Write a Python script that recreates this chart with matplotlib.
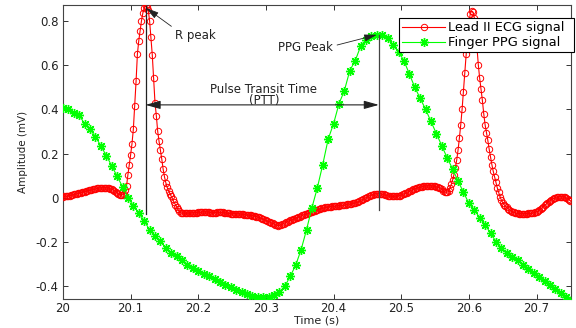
import numpy as np
import matplotlib
matplotlib.use("Agg")
import matplotlib.pyplot as plt
from matplotlib.lines import Line2D

# ---------------- data ----------------
t_start = 20.0
fs_ecg = 500.0   # Hz
fs_ppg = 125.0   # Hz

ecg_mv = [
    0.005, 0.006, 0.007, 0.008, 0.009, 0.010, 0.012, 0.013, 0.015, 0.016,
    0.018, 0.020, 0.022, 0.023, 0.025, 0.027, 0.028, 0.030, 0.032, 0.033,
    0.035, 0.036, 0.038, 0.039, 0.040, 0.042, 0.043, 0.044, 0.044, 0.045,
    0.045, 0.045, 0.045, 0.044, 0.043, 0.041, 0.039, 0.036, 0.032, 0.027,
    0.021, 0.017, 0.014, 0.013, 0.013, 0.018, 0.035, 0.055, 0.105, 0.150,
    0.195, 0.245, 0.310, 0.415, 0.526, 0.650, 0.710, 0.755, 0.800, 0.835,
    0.858, 0.866, 0.862, 0.850, 0.800, 0.725, 0.645, 0.540, 0.430, 0.370,
    0.300, 0.255, 0.215, 0.175, 0.130, 0.095, 0.068, 0.047, 0.032, 0.019,
    0.006, -0.007, -0.019, -0.031, -0.042, -0.053, -0.062, -0.067, -0.069, -0.070,
    -0.070, -0.070, -0.070, -0.070, -0.069, -0.069, -0.068, -0.068, -0.067, -0.067,
    -0.066, -0.065, -0.065, -0.064, -0.064, -0.064, -0.064, -0.065, -0.066, -0.067,
    -0.068, -0.068, -0.067, -0.067, -0.066, -0.065, -0.065, -0.065, -0.066, -0.067,
    -0.069, -0.070, -0.071, -0.071, -0.072, -0.072, -0.072, -0.072, -0.073, -0.073,
    -0.073, -0.074, -0.075, -0.075, -0.076, -0.077, -0.078, -0.079, -0.080, -0.080,
    -0.081, -0.082, -0.083, -0.085, -0.087, -0.089, -0.092, -0.094, -0.097, -0.100,
    -0.102, -0.105, -0.108, -0.111, -0.113, -0.116, -0.119, -0.122, -0.124, -0.126,
    -0.125, -0.123, -0.120, -0.117, -0.114, -0.111, -0.108, -0.105, -0.102, -0.100,
    -0.097, -0.095, -0.092, -0.090, -0.087, -0.085, -0.082, -0.080, -0.077, -0.075,
    -0.073, -0.070, -0.068, -0.065, -0.063, -0.061, -0.058, -0.056, -0.054, -0.052,
    -0.050, -0.048, -0.046, -0.045, -0.044, -0.042, -0.041, -0.040, -0.040, -0.039,
    -0.038, -0.038, -0.037, -0.037, -0.036, -0.035, -0.035, -0.034, -0.033, -0.032,
    -0.030, -0.029, -0.028, -0.027, -0.026, -0.024, -0.023, -0.021, -0.019, -0.016,
    -0.012, -0.009, -0.006, -0.003, 0.000, 0.004, 0.007, 0.010, 0.012, 0.014,
    0.017, 0.018, 0.019, 0.019, 0.019, 0.018, 0.017, 0.015, 0.013, 0.011,
    0.009, 0.008, 0.007, 0.006, 0.006, 0.006, 0.007, 0.008, 0.009, 0.010,
    0.012, 0.015, 0.017, 0.020, 0.023, 0.026, 0.029, 0.032, 0.035, 0.038,
    0.041, 0.043, 0.045, 0.047, 0.048, 0.050, 0.051, 0.052, 0.053, 0.053,
    0.054, 0.054, 0.054, 0.053, 0.052, 0.051, 0.050, 0.048, 0.046, 0.043,
    0.038, 0.032, 0.027, 0.024, 0.025, 0.030, 0.042, 0.060, 0.080, 0.105,
    0.135, 0.170, 0.215, 0.270, 0.330, 0.400, 0.480, 0.565, 0.650, 0.730,
    0.790, 0.830, 0.845, 0.840, 0.815, 0.760, 0.680, 0.600, 0.540, 0.490,
    0.440, 0.380, 0.330, 0.295, 0.260, 0.220, 0.185, 0.150, 0.120, 0.095,
    0.070, 0.045, 0.025, 0.005, -0.010, -0.022, -0.031, -0.038, -0.044, -0.049,
    -0.054, -0.059, -0.063, -0.066, -0.068, -0.070, -0.071, -0.072, -0.072, -0.072,
    -0.072, -0.072, -0.072, -0.072, -0.071, -0.071, -0.070, -0.069, -0.068, -0.066,
    -0.064, -0.061, -0.057, -0.052, -0.047, -0.041, -0.035, -0.029, -0.023, -0.018,
    -0.013, -0.009, -0.005, -0.002, 0.001, 0.003, 0.004, 0.005, 0.005, 0.005,
    0.004, 0.002, -0.001, -0.005, -0.009, -0.013,
]

ppg_mv = [
    0.405, 0.400, 0.385, 0.372, 0.335, 0.310, 0.275, 0.235, 0.190, 0.145,
    0.097, 0.050, 0.000, -0.036, -0.068, -0.105, -0.145, -0.172, -0.197, -0.228,
    -0.250, -0.265, -0.280, -0.302, -0.316, -0.330, -0.343, -0.355, -0.367, -0.380,
    -0.393, -0.405, -0.416, -0.427, -0.436, -0.443, -0.448, -0.450, -0.450, -0.440,
    -0.425, -0.400, -0.355, -0.305, -0.235, -0.145, -0.045, 0.045, 0.150, 0.265,
    0.335, 0.425, 0.485, 0.575, 0.620, 0.685, 0.715, 0.730, 0.738, 0.737,
    0.722, 0.690, 0.660, 0.620, 0.560, 0.500, 0.450, 0.400, 0.345, 0.290,
    0.235, 0.180, 0.130, 0.076, 0.025, -0.025, -0.055, -0.090, -0.122, -0.160,
    -0.198, -0.228, -0.252, -0.268, -0.283, -0.302, -0.321, -0.340, -0.359, -0.378,
    -0.395, -0.413, -0.431, -0.448, -0.465,
]

r_peak_t = 20.122
r_peak_v = 0.866
ppg_peak_t = 20.467
ppg_peak_v = 0.738
ptt_level = 0.42

x_ticks = [20.0, 20.1, 20.2, 20.3, 20.4, 20.5, 20.6, 20.7]
x_tick_labels = ["20", "20.1", "20.2", "20.3", "20.4", "20.5", "20.6", "20.7"]
y_ticks = [-0.4, -0.2, 0.0, 0.2, 0.4, 0.6, 0.8]
y_tick_labels = ["-0.4", "-0.2", "0", "0.2", "0.4", "0.6", "0.8"]

# ---------------- figure ----------------
plt.rcParams['font.family'] = ['DejaVu Sans']
W, H = 576, 328
fig = plt.figure(figsize=(W / 100, H / 100), dpi=100)
ax = fig.add_axes([63 / W, 1 - 299 / H, (571 - 63) / W, (299 - 4.5) / H])

t_ecg = t_start + np.arange(len(ecg_mv)) / fs_ecg
t_ppg = t_start + np.arange(len(ppg_mv)) / fs_ppg

red = '#ff0000'
green = '#00ff00'
ecg_style = dict(color=red, lw=0.8, marker='o', ms=4.6, mfc='none', mec=red, mew=0.7)
ppg_style = dict(color=green, lw=0.8, marker=(8, 2, 0), ms=6.5, mec=green, mew=1.0)

ax.plot(t_ecg, ecg_mv, zorder=3, **ecg_style)
ax.plot(t_ppg, ppg_mv, zorder=4, **ppg_style)

ax.set_xlim(20.0, 20.751)
ax.set_ylim(-0.458, 0.874)

# annotation lines
ax.plot([r_peak_t, r_peak_t], [-0.072, r_peak_v], color='#222222', lw=0.9, zorder=5)
ax.plot([ppg_peak_t, ppg_peak_t], [-0.055, ppg_peak_v], color='#444444', lw=0.9, zorder=5)

ax.annotate('', xy=(r_peak_t, ptt_level), xytext=(ppg_peak_t, ptt_level),
            arrowprops=dict(arrowstyle='<|-|>,head_length=0.9,head_width=0.25',
                            color='#222222', lw=0.8, shrinkA=0, shrinkB=0),
            zorder=6)
ax.text(20.296, 0.49, 'Pulse Transit Time', ha='center', va='center', fontsize=8.5,
        color='#222222')
ax.text(20.298, 0.438, '(PTT)', ha='center', va='center', fontsize=8.5, color='#222222')

ax.annotate('R peak', xy=(r_peak_t + 0.001, 0.858), xytext=(20.166, 0.733),
            ha='left', va='center', fontsize=8.5, color='#222222',
            arrowprops=dict(arrowstyle='-|>,head_length=0.9,head_width=0.25',
                            color='#222222', lw=0.6, shrinkA=1, shrinkB=0,
                            relpos=(0.0, 1.0)), zorder=6)
ax.annotate('PPG Peak', xy=(20.464, 0.737), xytext=(20.318, 0.68),
            ha='left', va='center', fontsize=8.5, color='#222222',
            arrowprops=dict(arrowstyle='-|>,head_length=0.9,head_width=0.25',
                            color='#222222', lw=0.6, shrinkA=1, shrinkB=0,
                            relpos=(1.0, 0.6)), zorder=6)

# axes style (MATLAB-like)
ax.set_xticks(x_ticks)
ax.set_xticklabels(x_tick_labels)
ax.set_yticks(y_ticks)
ax.set_yticklabels(y_tick_labels)
ax.tick_params(direction='in', length=3.5, width=0.7, top=True, right=True,
               labelsize=8.5, colors='#333333', labelcolor='#222222', pad=3)
ax.tick_params(axis='x', pad=2.5)
for s in ax.spines.values():
    s.set_color('#444444')
    s.set_linewidth(0.8)

ax.set_xlabel('Time (s)', fontsize=8, color='#222222', labelpad=0)
ax.set_ylabel('Amplitude (mV)', fontsize=7.5, color='#222222', labelpad=6)

handles = [Line2D([], [], **ecg_style), Line2D([], [], **ppg_style)]
leg = ax.legend(handles, ['Lead II ECG signal', 'Finger PPG signal'],
                loc='upper left',
                bbox_to_anchor=(399 / W, 1 - 50 / H, 175 / W, 32 / H),
                bbox_transform=fig.transFigure, mode='expand',
                fontsize=9.3, frameon=True,
                fancybox=False, framealpha=1, edgecolor='black',
                handlelength=3.3, handletextpad=0.25, borderpad=0.25,
                labelspacing=0.15, borderaxespad=0)
leg.get_frame().set_linewidth(0.8)
leg.set_zorder(10)

fig.savefig('out.png', dpi=100, facecolor='white')
